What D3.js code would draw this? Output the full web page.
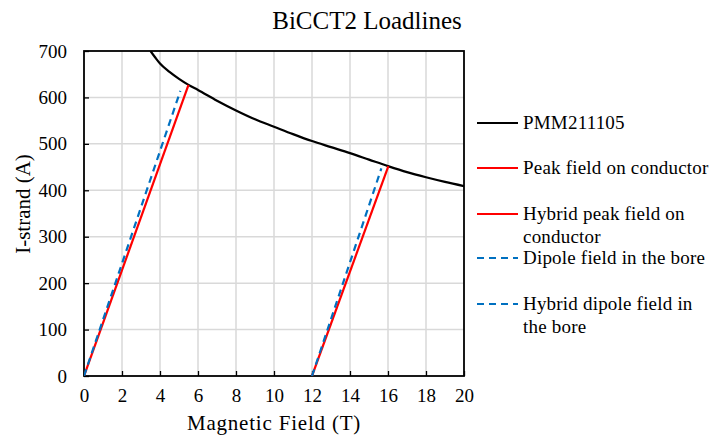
<!DOCTYPE html>
<html><head><meta charset="utf-8">
<script src="https://cdn.jsdelivr.net/npm/d3@7"></script>
<style>body{margin:0;background:#fff}svg{display:block}svg text{font-family:"Liberation Serif","Times New Roman",serif !important;fill:#000}</style>
</head><body><svg id="c" width="710" height="440"></svg>
<script>
const xTicks=[0,2,4,6,8,10,12,14,16,18,20];
const yTicks=[0,100,200,300,400,500,600,700];
const pmmB=[3.5,3.75,4,4.5,5,5.5,6,7,8,9,10,11,12,13,14,15,16,17,18,19,20];
const pmmI=[700,686,673,655,640,627,616,593,572,553,537,521,506,493,480,466,452,439,428,418,409];
const peakB=[0,5.5];const peakI=[0,627];
const hybPeakB=[12,16.02];const hybPeakI=[0,452];
const dipB=[0,5.07];const dipI=[0,614];
const hybDipB=[12,15.65];const hybDipI=[0,447];
const legendLabels=[["PMM211105"],["Peak field on conductor"],["Hybrid peak field on","conductor"],["Dipole field in the bore"],["Hybrid dipole field in","the bore"]];

const svg=d3.select("#c");
const L=84,R=464,T=51,B=376;
const x=d3.scaleLinear().domain([0,20]).range([L,R]);
const y=d3.scaleLinear().domain([0,700]).range([B,T]);
svg.append("g").selectAll("line").data(xTicks.slice(1,-1)).join("line")
 .attr("x1",d=>x(d)).attr("x2",d=>x(d)).attr("y1",T).attr("y2",B).attr("stroke","#d9d9d9").attr("stroke-width",1.5);
svg.append("g").selectAll("line").data(yTicks.slice(1,-1)).join("line")
 .attr("y1",d=>y(d)).attr("y2",d=>y(d)).attr("x1",L).attr("x2",R).attr("stroke","#d9d9d9").attr("stroke-width",1.5);
const xa=svg.append("g").attr("transform",`translate(0,${B})`).call(d3.axisBottom(x).tickValues(xTicks).tickSize(-5).tickPadding(13));
const ya=svg.append("g").attr("transform",`translate(${L},0)`).call(d3.axisLeft(y).tickValues(yTicks).tickSize(-5).tickPadding(17));
[xa,ya].forEach(a=>{a.attr("font-family",null);a.select(".domain").remove();a.selectAll("text").attr("font-size",19);a.selectAll("line").attr("stroke","#000").attr("stroke-width",1.3);});
svg.append("rect").attr("x",L).attr("y",T).attr("width",R-L).attr("height",B-T).attr("fill","none").attr("stroke","#000").attr("stroke-width",1.8);
const line=d3.line().x(d=>x(d[0])).y(d=>y(d[1]));
const zip=(a,b)=>a.map((v,i)=>[v,b[i]]);
svg.append("clipPath").attr("id","cp").append("rect").attr("x",L).attr("y",T).attr("width",R-L).attr("height",B-T);
const g=svg.append("g").attr("clip-path","url(#cp)");
g.append("path").attr("d",d3.line().curve(d3.curveMonotoneX).x(d=>x(d[0])).y(d=>y(d[1]))(zip(pmmB,pmmI))).attr("fill","none").attr("stroke","#000").attr("stroke-width",2.2);
[[peakB,peakI],[hybPeakB,hybPeakI]].forEach(s=>g.append("path").attr("d",line(zip(s[0],s[1]))).attr("fill","none").attr("stroke","#ff0000").attr("stroke-width",2.2));
[[dipB,dipI],[hybDipB,hybDipI]].forEach(s=>g.append("path").attr("d",line(zip(s[0],s[1]))).attr("fill","none").attr("stroke","#0070c0").attr("stroke-width",2.2).attr("stroke-dasharray","7,5"));
const legY=[123,168,214,258,304];
const styles=[{c:"#000"},{c:"#ff0000"},{c:"#ff0000"},{c:"#0070c0",d:"7,5"},{c:"#0070c0",d:"7,5"}];
legendLabels.forEach((lab,i)=>{
 svg.append("line").attr("x1",477).attr("x2",518).attr("y1",legY[i]).attr("y2",legY[i]).attr("stroke",styles[i].c).attr("stroke-width",2.2).attr("stroke-dasharray",styles[i].d||null);
 const t=svg.append("text").attr("x",523).attr("y",legY[i]+6).attr("font-size",19).attr("letter-spacing",0.2);
 lab.forEach((s,j)=>t.append("tspan").attr("x",523).attr("dy",j?22.5:0).text(s));
});
svg.append("text").attr("x",367).attr("y",29).attr("text-anchor","middle").attr("font-size",25).text("BiCCT2 Loadlines");
svg.append("text").attr("x",274).attr("y",430).attr("text-anchor","middle").attr("font-size",21).attr("letter-spacing",0.8).text("Magnetic Field (T)");
svg.append("text").attr("transform","translate(30,204) rotate(-90)").attr("text-anchor","middle").attr("font-size",21).text("I-strand (A)");
</script></body></html>
